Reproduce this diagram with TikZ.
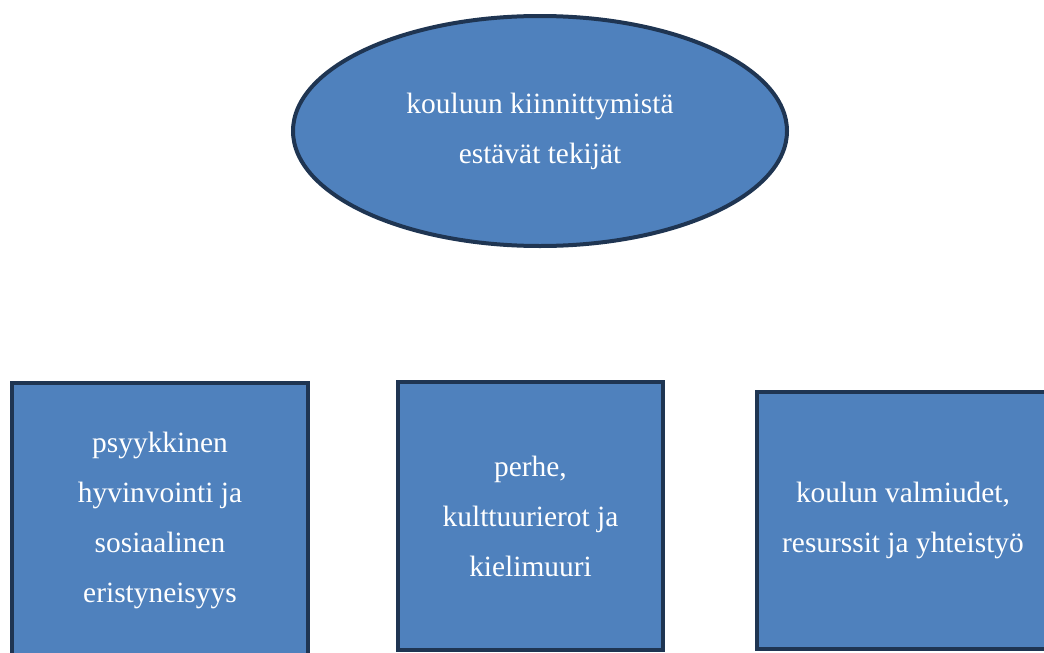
\documentclass[tikz,border=0pt]{standalone}
\usepackage{fontspec}
\setmainfont{Liberation Serif}
\usetikzlibrary{shapes.geometric}
\definecolor{boxblue}{HTML}{4F81BD}
\definecolor{boxedge}{HTML}{1F3552}

\begin{document}
\begin{tikzpicture}[x=0.5pt,y=-0.5pt,
  every node/.style={font=\fontsize{14.7}{25}\selectfont, text=white, align=center},
  box/.style={draw=boxedge, line width=2pt, fill=boxblue, inner sep=0pt}]
\useasboundingbox (0,0) rectangle (1044,653);
\clip (0,0) rectangle (1044,653);
\node[box, ellipse, minimum width=247pt, minimum height=115pt] (tekijat) at (540,131) {kouluun kiinnittymistä\\estävät tekijät};
\node[box, minimum width=148pt, minimum height=137pt] (psyyke) at (160,520) {psyykkinen\\hyvinvointi ja\\sosiaalinen\\eristyneisyys};
\node[box, minimum width=132.5pt, minimum height=134pt] (perhe) at (530.5,516) {perhe,\\kulttuurierot ja\\kielimuuri};
\node[box, minimum width=146pt, minimum height=128.5pt] (koulu) at (903,520) {koulun valmiudet,\\resurssit ja yhteistyö};
\end{tikzpicture}
\end{document}
